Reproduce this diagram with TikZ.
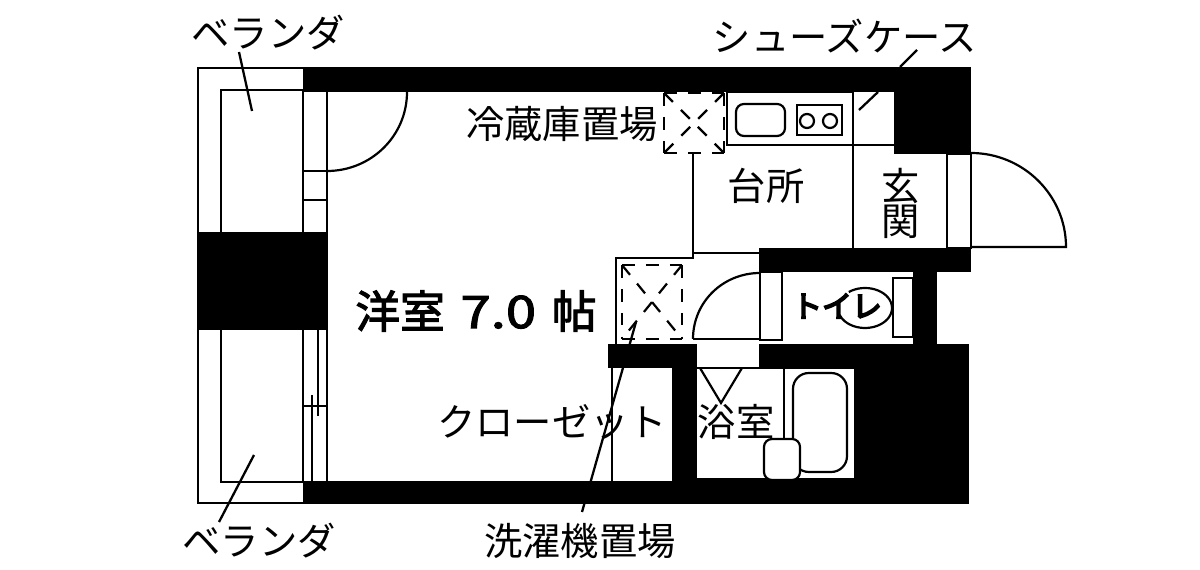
\documentclass[tikz,border=0pt]{standalone}
\usepackage{fontspec}
\setmainfont{Noto Sans CJK JP}
\newfontfamily\heavyfont[FakeBold=2.5]{Noto Sans CJK JP}
\newfontfamily\widefont[FakeBold=2.5,FakeStretch=1.22]{Noto Sans CJK JP}
\newfontfamily\toiletfont[FakeBold=6]{Noto Sans CJK JP}
\usetikzlibrary{positioning}
\tikzset{
    wall/.style={fill=black, draw=none},
    thinline/.style={draw=black, line width=1.25pt},
    leader/.style={draw=black, line width=1.3pt},
    dashedge/.style={draw=black, line width=1.25pt, dash pattern=on 7.2pt off 6.4pt},
    fitting/.style={draw=black, line width=1.25pt, fill=white, rounded corners=4.5pt},
    roomlabel/.style={font=\fontsize{21.8}{21.8}\selectfont, inner sep=0pt},
    mainlabel/.style={font=\fontsize{25.4}{25.4}\selectfont\heavyfont, inner sep=0pt},
    toiletlabel/.style={font=\fontsize{17}{17}\selectfont\toiletfont, inner sep=0pt}
}
\newcommand{\crossbox}[4]{%
    \draw[dashedge] (#1,#2) -- (#3,#2);
    \draw[dashedge] (#1,#4) -- (#3,#4);
    \draw[dashedge] (#1,#2) -- (#1,#4);
    \draw[dashedge] (#3,#2) -- (#3,#4);
    \draw[dashedge] (#1,#2) -- (#3,#4);
    \draw[dashedge] (#3,#2) -- (#1,#4);
}
\begin{document}
\begin{tikzpicture}[x=0.02cm, y=-0.02cm]
    \useasboundingbox (0,0) rectangle (1200,570);

    % balcony
    \draw[thinline] (315,68) -- (198,68) -- (198,503) -- (315,503);
    \draw[thinline] (221,90) rectangle (303,482);
    \draw[thinline] (327,92) -- (327,481);
    \draw[thinline] (303,171) -- (327,171);
    \draw[thinline] (303,200) -- (327,200);
    \draw[thinline] (303,406) -- (327,406);
    \draw[thinline] (312,395) -- (312,481);
    \draw[thinline] (318,330) -- (318,416);
    \draw[thinline] (407,92) .. controls (407,136) and (371,171) .. (327,171);

    % kitchen and entrance
    \draw[thinline] (727,92) rectangle (853,145);
    \draw[thinline] (853,145) -- (894,145);
    \draw[thinline] (853,92) -- (853,248);
    \draw[thinline, rounded corners=4.5pt] (736,104) rectangle (785,136);
    \draw[thinline] (797,105) rectangle (842,135);
    \draw[thinline] (807,121) circle (7);
    \draw[thinline] (830,121) circle (7);
    \crossbox{664}{93}{724}{153}
    \draw[thinline] (947,154) rectangle (971,248);
    \draw[thinline] (971,153) .. controls (1023,153) and (1066,195) .. (1066,247) -- (971,247);

    % washing machine and toilet
    \draw[thinline] (693,153) -- (693,253) -- (760,253);
    \draw[thinline] (616,344) -- (616,258) -- (693,258) -- (693,253);
    \crossbox{622}{265}{682}{339}
    \draw[thinline] (760,272) rectangle (782,340);
    \draw[thinline] (693,339) -- (760,339);
    \draw[thinline] (693,339) .. controls (693,302) and (723,273) .. (760,273);
    \draw[thinline] (893,278) rectangle (913,337);
    \draw[thinline] plot[domain=127:-160, samples=40] ({865+27*cos(\x)},{308-20*sin(\x)});

    % walls
    \fill[wall] (303,67) rectangle (971,92);
    \fill[wall] (894,67) rectangle (971,154);
    \fill[wall] (198,232) rectangle (327,330);
    \fill[wall] (303,481) rectangle (969,504);
    \fill[wall] (759,248) rectangle (971,272);
    \fill[wall] (913,272) rectangle (937,344);
    \fill[wall] (608,344) rectangle (697,368);
    \fill[wall] (672,368) rectangle (697,481);
    \fill[wall] (759,344) rectangle (969,368);
    \fill[wall] (854,368) rectangle (969,481);
    \fill[wall] (697,367) rectangle (854,369);
    \fill[wall] (697,478) rectangle (854,481);

    % bathroom
    \draw[thinline] (612,368) -- (612,481);
    \draw[thinline] (784,368) -- (784,440);
    \draw[thinline] (700,368) -- (721,403) -- (742,368);
    \draw[thinline, rounded corners=9pt] (793,373) rectangle (847,472);
    \draw[fitting] (764,439) rectangle (800,480);

    % labels
    \node[roomlabel] (balconyTop) at (268,33) {ベランダ};
    \node[roomlabel] (balconyBottom) at (259,541) {ベランダ};
    \node[roomlabel] (shoeBox) at (845,36) {シューズケース};
    \node[roomlabel] (fridge) at (562,124) {冷蔵庫置場};
    \node[roomlabel] (kitchen) at (766,186) {台所};
    \node[roomlabel] (entryTop) at (901,186) {玄};
    \node[roomlabel] (entryBottom) at (901,222) {関};
    \node[mainlabel] (room) at (476,311) {洋室\hspace{9pt}{\widefont 7.0}\hspace{9pt}帖};
    \node[roomlabel] (closet) at (552,422) {クローゼット};
    \node[roomlabel] (bath) at (736,422) {浴室};
    \node[roomlabel] (washer) at (580,541) {洗濯機置場};
    \node[toiletlabel] (toilet) at (837,306) {トイレ};

    % leaders
    \coordinate (balconyTopStart) at (239,52);
    \coordinate (balconyTopEnd) at (252,111);
    \coordinate (balconyBottomStart) at (219,522);
    \coordinate (balconyBottomEnd) at (254,455);
    \coordinate (shoeStart) at (917,50);
    \coordinate (shoeWallA) at (900,67);
    \coordinate (shoeWallB) at (878,92);
    \coordinate (shoeEnd) at (859,110);
    \coordinate (washerStart) at (582,512);
    \coordinate (washerEnd) at (636,322);
    \draw[leader] (balconyTopStart) -- (balconyTopEnd);
    \draw[leader] (balconyBottomStart) -- (balconyBottomEnd);
    \draw[leader] (shoeStart) -- (shoeWallA);
    \draw[leader] (shoeWallB) -- (shoeEnd);
    \draw[leader] (washerStart) -- (washerEnd);
\end{tikzpicture}
\end{document}
